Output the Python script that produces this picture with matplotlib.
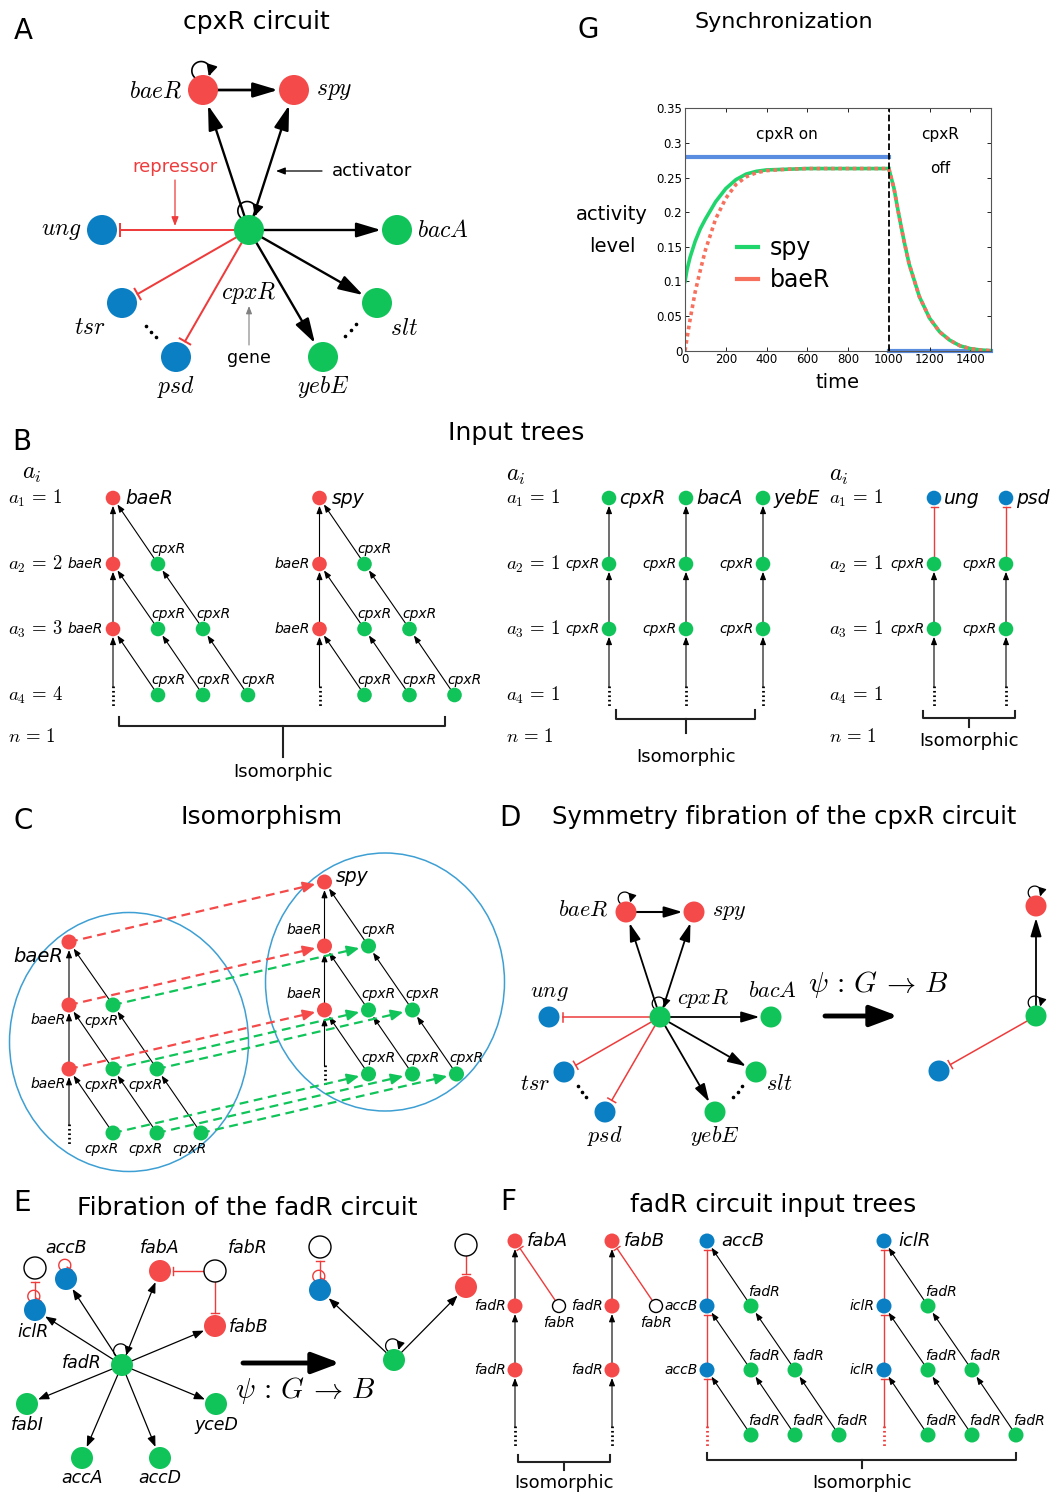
import numpy as np
import matplotlib
matplotlib.use("Agg")
import matplotlib.pyplot as plt
from matplotlib.patches import Circle, Ellipse, FancyArrowPatch
from matplotlib.lines import Line2D

plt.rcParams["font.family"] = "DejaVu Sans"
plt.rcParams["mathtext.fontset"] = "cm"

RED = "#f44a4a"
GREEN = "#10c45a"
BLUE = "#0a7fc4"
REP = "#ee3b3b"
ELL = "#3d9fd3"
G_GREEN = "#1fd56c"
G_RED = "#f7705d"
G_BLUE = "#5a8de0"

# ---------------- data ----------------
# panel G, values
t_on = [0, 10, 25, 50, 75, 100, 150, 200, 250, 300, 350, 400, 500, 600, 800, 1000]
spy_on = [0.100, 0.117, 0.135, 0.158, 0.176, 0.190, 0.215, 0.234, 0.247, 0.255, 0.259, 0.261,
          0.262, 0.263, 0.263, 0.263]
baer_on = [0.0, 0.018, 0.045, 0.085, 0.116, 0.145, 0.190, 0.220, 0.240, 0.251, 0.257, 0.260,
           0.262, 0.263, 0.263, 0.263]
t_off = [1000, 1025, 1050, 1075, 1100, 1150, 1200, 1250, 1300, 1350, 1400, 1450, 1500]
spy_off = [0.263, 0.235, 0.195, 0.158, 0.125, 0.078, 0.047, 0.027, 0.015, 0.007, 0.003, 0.001, 0.0]
baer_off = [0.263, 0.235, 0.195, 0.158, 0.125, 0.078, 0.047, 0.027, 0.015, 0.007, 0.003, 0.001, 0.0]
cpxr_on_t = [0, 1000]
cpxr_on = [0.28, 0.28]
cpxr_off_t = [1000, 1500]
cpxr_off = [0.0, 0.0]
g_xticks = [0, 200, 400, 600, 800, 1000, 1200, 1400]
g_yticks = [0, 0.05, 0.1, 0.15, 0.2, 0.25, 0.3, 0.35]
g_ylabels = ["0", "0.05", "0.1", "0.15", "0.2", "0.25", "0.3", "0.35"]

# cpxR circuit (panels A and D)
cpx_color = {"baeR": RED, "spy": RED, "cpxR": GREEN, "ung": BLUE, "bacA": GREEN,
             "tsr": BLUE, "psd": BLUE, "yebE": GREEN, "slt": GREEN}
cpx_act = [("cpxR", "baeR"), ("cpxR", "spy"), ("cpxR", "bacA"), ("cpxR", "slt"), ("cpxR", "yebE")]
cpx_rep = [("cpxR", "ung"), ("cpxR", "tsr"), ("cpxR", "psd")]
cpx_self = ["baeR", "cpxR"]

# fadR circuit (panel E)
fad_color = {"fadR": GREEN, "iclR": BLUE, "accB": BLUE, "fabA": RED, "fabB": RED,
             "fabI": GREEN, "accA": GREEN, "accD": GREEN, "yceD": GREEN}
fad_targets = ["iclR", "accB", "fabA", "fabB", "fabI", "accA", "accD", "yceD"]

# input tree labels
row_vals_b1 = ["1", "2", "3", "4"]
row_vals_b2 = ["1", "1", "1", "1"]

# ---------------- layout (pixels) ----------------
A_pos = {"baeR": (203, 90), "spy": (294, 90), "cpxR": (249, 230), "ung": (102, 230),
         "bacA": (397, 230), "tsr": (122, 303), "psd": (176, 357), "yebE": (323, 357),
         "slt": (377, 303)}
A_lab = {"baeR": (156, 90), "spy": (334, 90), "ung": (61, 230), "bacA": (443, 230),
         "tsr": (90, 327), "psd": (176, 387), "yebE": (323, 387), "slt": (404, 328),
         "cpxR": (249, 293)}
D_pos = {"baeR": (626, 912), "spy": (694, 912), "cpxR": (660, 1017), "ung": (549, 1017),
         "bacA": (771, 1017), "tsr": (564, 1072), "psd": (605, 1112), "yebE": (715, 1112),
         "slt": (756, 1072)}
D_lab = {"baeR": (583, 910), "spy": (729, 912), "ung": (549, 993), "bacA": (772, 991),
         "tsr": (535, 1084), "psd": (605, 1136), "yebE": (715, 1136), "slt": (779, 1084),
         "cpxR": (703, 999)}
E_pos = {"fadR": (122, 1365), "iclR": (35, 1310), "accB": (66, 1279), "fabA": (160, 1271),
         "fabB": (215, 1326), "fabI": (27, 1404), "accA": (82, 1458), "accD": (160, 1458),
         "yceD": (216, 1404)}
E_lab = {"accB": (66, 1248), "iclR": (33, 1332), "fabA": (160, 1248), "fabB": (249, 1327),
         "fadR": (82, 1363), "fabI": (27, 1425), "accA": (82, 1478), "accD": (160, 1478),
         "yceD": (216, 1425)}
PSI = r"$\psi\,:\,G\,\rightarrow\,B$"

fig = plt.figure(figsize=(10.5, 14.98), dpi=100)
ax = fig.add_axes([0, 0, 1, 1])
ax.set_xlim(0, 1050)
ax.set_ylim(1498, 0)
ax.axis("off")


def txt(x, y, s, fs=10, ha="center", va="center", color="k", style="normal"):
    ax.text(x, y, s, fontsize=fs, ha=ha, va=va, color=color, fontstyle=style, zorder=6)


def node(x, y, c, r, hollow=False):
    if hollow:
        ax.add_patch(Circle((x, y), r, facecolor="white", edgecolor="k", lw=1.0, zorder=5))
    else:
        ax.add_patch(Circle((x, y), r, facecolor=c, edgecolor="none", zorder=5))


def unit(p, q):
    p = np.array(p, float)
    q = np.array(q, float)
    return p, q, (q - p) / np.hypot(*(q - p))


def arrow(p, q, rb=0, lw=0.8, ms=5, hl=0.9, hw=0.35, color="k", z=2):
    p, q, u = unit(p, q)
    b = q - u * rb
    ax.add_patch(FancyArrowPatch(p, b, arrowstyle=f"-|>,head_length={hl},head_width={hw}",
                                 mutation_scale=ms, lw=lw, color=color, shrinkA=0, shrinkB=0,
                                 zorder=z))


def repress(p, q, rb=0, lw=1.0, h=4, color=REP, z=2):
    p, q, u = unit(p, q)
    b = q - u * rb
    n = np.array([-u[1], u[0]])
    ax.plot([p[0], b[0]], [p[1], b[1]], color=color, lw=lw, zorder=z)
    ax.plot([b[0] - n[0] * h, b[0] + n[0] * h], [b[1] - n[1] * h, b[1] + n[1] * h],
            color=color, lw=lw, zorder=z)


def loop(x, y, r, lr, color="k", lw=1.0, ms=7, rep=False):
    # clockwise loop sitting on top of a node, head coming down on the right
    cx, cy = x - 0.2 * lr, y - r - 0.45 * lr
    t = np.radians(np.linspace(245, -35, 40))
    px = cx + lr * np.cos(t)
    py = cy - lr * np.sin(t)
    ax.plot(px[:-2], py[:-2], color=color, lw=lw, zorder=4)
    if rep:
        ax.plot(px[-3:], py[-3:], color=color, lw=lw, zorder=4)
        u = np.array([px[-1] - px[-2], py[-1] - py[-2]])
        u /= np.hypot(*u)
        n = np.array([-u[1], u[0]])
        h = 3
        ax.plot([px[-1] - n[0] * h, px[-1] + n[0] * h], [py[-1] - n[1] * h, py[-1] + n[1] * h],
                color=color, lw=lw, zorder=4)
    else:
        ax.add_patch(FancyArrowPatch((px[-6], py[-6]), (px[-1], py[-1]),
                                     arrowstyle="-|>,head_length=0.8,head_width=0.4",
                                     mutation_scale=ms, lw=lw, color=color, shrinkA=0,
                                     shrinkB=0, zorder=4))


def dots(x, y, color="k"):
    ax.plot([x, x], [y - 9, y + 12], color=color, lw=2, ls=(0, (0.6, 1.0)), zorder=3)


def dots_diag(x1, y1, x2, y2):
    ax.plot(np.linspace(x1, x2, 3), np.linspace(y1, y2, 3), "o", color="k", ms=1.6, zorder=3)


def bracket(x1, x2, y, xc, yd, label, ly, tick=9):
    ax.plot([x1, x1, x2, x2], [y - tick, y, y, y - tick], color="#222", lw=1.5, zorder=3)
    ax.plot([xc, xc], [y, yd], color="#222", lw=1.5, zorder=3)
    txt(xc, ly, label, 13)


def dashed_arrow(p, q, rb, color):
    p, q, u = unit(p, q)
    b = q - u * rb
    hb = b - u * 9
    ax.plot([p[0], hb[0]], [p[1], hb[1]], color=color, lw=1.6, ls=(0, (4, 2.5)), zorder=3)
    ax.add_patch(FancyArrowPatch(hb - u * 1, b, arrowstyle="-|>,head_length=0.9,head_width=0.4",
                                 mutation_scale=8, lw=1.5, color=color, shrinkA=0, shrinkB=0,
                                 zorder=3))


def tri_tree(x0, ys, top_col, spine_col, top_lab, spine_lab, leaf_lab, dx=45, r=7.3,
             rep=False, top_off=(12, 0, "left"), top_fs=13.5, spine_off=(-10, 0, "right"),
             leaf_off=(10, -15), fs=10, dot_col="k"):
    for k in (1, 2):
        if rep:
            repress((x0, ys[k]), (x0, ys[k - 1]), rb=r + 1.5, lw=1.0, h=3.5)
        else:
            arrow((x0, ys[k]), (x0, ys[k - 1]), rb=r + 0.5)
    dots(x0, ys[3], dot_col)
    if rep:
        repress((x0, ys[3] - 8), (x0, ys[2]), rb=r + 1.5, lw=1.0, h=3.5)
    else:
        arrow((x0, ys[3] - 8), (x0, ys[2]), rb=r + 0.5)
    for k in (1, 2, 3):
        for c in range(1, k + 1):
            xc = x0 + c * dx
            arrow((xc, ys[k]), (xc - dx, ys[k - 1]), rb=r + 0.5)
            node(xc, ys[k], GREEN, r)
            txt(xc + leaf_off[0], ys[k] + leaf_off[1], leaf_lab, fs, style="italic")
    node(x0, ys[0], top_col, r)
    txt(x0 + top_off[0], ys[0] + top_off[1], top_lab, top_fs, ha=top_off[2], style="italic")
    for k in (1, 2):
        node(x0, ys[k], spine_col, r)
        txt(x0 + spine_off[0], ys[k] + spine_off[1], spine_lab, fs, ha=spine_off[2], style="italic")


def vert_tree(x, ys, top_col, top_lab, mid_lab, r=7.3, top_rep=False):
    if top_rep:
        repress((x, ys[1]), (x, ys[0]), rb=r + 1.5, lw=1.0, h=3.5)
    else:
        arrow((x, ys[1]), (x, ys[0]), rb=r + 0.5)
    arrow((x, ys[2]), (x, ys[1]), rb=r + 0.5)
    dots(x, ys[3])
    arrow((x, ys[3] - 8), (x, ys[2]), rb=r + 0.5)
    node(x, ys[0], top_col, r)
    txt(x + 10, ys[0], top_lab, 13.5, ha="left", style="italic")
    for k in (1, 2):
        node(x, ys[k], GREEN, r)
        txt(x - 9, ys[k], mid_lab, 10, ha="right", style="italic")


def circuit(pos, lab, r, fs, lw, ms, rep_h):
    for s, t in cpx_act:
        arrow(pos[s], pos[t], rb=r + 1, lw=lw, ms=ms, hl=1.0, hw=0.3)
    arrow(pos["baeR"], pos["spy"], rb=r + 1, lw=lw * 1.15, ms=ms, hl=1.0, hw=0.3)
    for s, t in cpx_rep:
        repress(pos[s], pos[t], rb=r + 3, lw=lw * 0.85, h=rep_h)
    for n in cpx_self:
        loop(pos[n][0], pos[n][1], r, r * 0.62, lw=lw * 0.7, ms=ms * 0.55)
    for n, c in cpx_color.items():
        node(pos[n][0], pos[n][1], c, r)
        txt(lab[n][0], lab[n][1], f"${n}$", fs)


# ---------------- panel letters and titles ----------------
for s, x, y in [("A", 23, 31), ("G", 588, 30), ("B", 22, 442), ("C", 23, 821),
                ("D", 510, 818), ("E", 22, 1203), ("F", 508, 1202)]:
    txt(x, y, s, 20)
for s, x, y, fs in [("cpxR circuit", 256, 22, 18), ("Synchronization", 784, 22, 16),
                    ("Input trees", 516, 433, 18), ("Isomorphism", 262, 817, 18),
                    ("Symmetry fibration of the cpxR circuit", 784, 817, 17.5),
                    ("Fibration of the fadR circuit", 247, 1208, 18),
                    ("fadR circuit input trees", 773, 1205, 18)]:
    txt(x, y, s, fs)

# ---------------- A ----------------
circuit(A_pos, A_lab, 15, 17, 1.7, 15, 6)
dots_diag(146, 326, 156, 337)
dots_diag(345, 336, 356, 324)
txt(175, 167, "repressor", 13, color=REP)
arrow((175, 180), (175, 226), lw=0.9, ms=6, color=REP)
txt(372, 171, "activator", 13)
arrow((322, 171), (276, 171), lw=0.9, ms=6)
txt(249, 358, "gene", 12.5)
arrow((249, 345), (249, 306), lw=0.8, ms=5, color="gray")

# ---------------- G ----------------
gax = fig.add_axes([685 / 1050, 1 - 350.7 / 1498, 305.7 / 1050, 242.4 / 1498])
gax.plot(cpxr_on_t, cpxr_on, color=G_BLUE, lw=3)
gax.plot(cpxr_off_t, cpxr_off, color=G_BLUE, lw=3, clip_on=False, zorder=1)
gax.plot(t_on, spy_on, color=G_GREEN, lw=2.6)
gax.plot(t_off, spy_off, color=G_GREEN, lw=2.6)
gax.plot(t_on, baer_on, color=G_RED, lw=2.6, ls=(0, (1, 1)))
gax.plot(t_off, baer_off, color=G_RED, lw=2.6, ls=(0, (1, 1)))
gax.axvline(1000, color="k", ls="--", lw=1.3)
gax.set_xlim(0, 1500)
gax.set_ylim(0, 0.35)
gax.set_xticks(g_xticks)
gax.set_yticks(g_yticks)
gax.set_yticklabels(g_ylabels)
gax.tick_params(direction="in", top=True, right=True, labelsize=8.5, length=3, width=0.6, pad=2)
for sp in gax.spines.values():
    sp.set_color("#555")
    sp.set_linewidth(0.8)
gax.text(500, 0.3115, "cpxR on", ha="center", va="center", fontsize=11)
gax.text(1250, 0.3115, "cpxR", ha="center", va="center", fontsize=11)
gax.text(1250, 0.263, "off", ha="center", va="center", fontsize=11)
handles = [Line2D([0], [0], color=G_GREEN, lw=3), Line2D([0], [0], color=G_RED, lw=3)]
gax.legend(handles, ["spy", "baeR"], loc="center left", bbox_to_anchor=(0.169, 0.357),
           frameon=False, fontsize=17, handlelength=0.9, handletextpad=0.5,
           borderpad=0, borderaxespad=0, labelspacing=0.35)
txt(612, 215, "activity", 14)
txt(612, 247, "level", 14)
txt(838, 383, "time", 14)

# ---------------- B ----------------
B_rows = [498, 564, 629, 695]
txt(22, 473, "$a_i$", 17, ha="left")
txt(506, 475, "$a_i$", 17, ha="left")
txt(829, 475, "$a_i$", 17, ha="left")
for i in range(4):
    txt(8, B_rows[i], rf"$a_{i + 1}\,=\,{row_vals_b1[i]}$", 13.5, ha="left")
    txt(506, B_rows[i], rf"$a_{i + 1}\,=\,{row_vals_b2[i]}$", 13.5, ha="left")
    txt(829, B_rows[i], rf"$a_{i + 1}\,=\,{row_vals_b2[i]}$", 13.5, ha="left")
for x in (8, 506, 829):
    txt(x, 736, r"$n\,=\,1$", 13.5, ha="left")
tri_tree(113, B_rows, RED, RED, "baeR", "baeR", "cpxR")
tri_tree(319.5, B_rows, RED, RED, "spy", "baeR", "cpxR")
bracket(119, 445, 726, 283, 757, "Isomorphic", 772)
for x, name in zip([609, 686, 763], ["cpxR", "bacA", "yebE"]):
    vert_tree(x, B_rows, GREEN, name, "cpxR")
bracket(616, 755, 719, 686, 733, "Isomorphic", 757)
for x, name in zip([934, 1006], ["ung", "psd"]):
    vert_tree(x, B_rows, BLUE, name, "cpxR", top_rep=True)
bracket(923, 1015, 718, 969, 727, "Isomorphic", 741, tick=7)

# ---------------- C ----------------
ax.add_patch(Ellipse((129, 1042), 239, 259, fill=False, edgecolor=ELL, lw=1.1, zorder=1))
ax.add_patch(Ellipse((385, 982), 239, 258, fill=False, edgecolor=ELL, lw=1.1, zorder=1))
CL_rows = [942, 1005, 1069, 1133]
CR_rows = [882, 946, 1010, 1074]
CL_x0, CR_x0, C_dx = 69, 324.5, 44
tri_tree(CL_x0, CL_rows, RED, RED, "baeR", "baeR", "cpxR", dx=C_dx, r=7.5,
         top_off=(-31, 15, "center"), top_fs=14, spine_off=(-21, 15, "center"),
         leaf_off=(-12, 16))
tri_tree(CR_x0, CR_rows, RED, RED, "spy", "baeR", "cpxR", dx=C_dx, r=7.5,
         top_off=(11, -6, "left"), top_fs=13.5, spine_off=(-20, -16, "center"),
         leaf_off=(10, -16))
for k in range(4):
    for c in range(k + 1):
        if k == 3 and c == 0:
            continue
        col = RED if c == 0 else GREEN
        dashed_arrow((CL_x0 + c * C_dx, CL_rows[k]), (CR_x0 + c * C_dx, CR_rows[k]), 9.5, col)

# ---------------- D ----------------
circuit(D_pos, D_lab, 10.5, 16, 1.3, 11, 4.5)
dots_diag(578, 1086, 586, 1097)
dots_diag(733, 1097, 742, 1086)
txt(878, 985, PSI, 21)
arrow((825, 1016), (898, 1016), lw=3.5, ms=14, hl=1.2, hw=0.45)
Db = {"r": (1036, 906), "g": (1036, 1016), "b": (939, 1071)}
arrow(Db["g"], Db["r"], rb=12, lw=1.3, ms=11, hl=1.0, hw=0.3)
repress(Db["g"], Db["b"], rb=13, lw=1.1, h=4.5)
loop(*Db["r"], 10.5, 6.5, lw=0.9, ms=6)
loop(*Db["g"], 10.5, 6.5, lw=0.9, ms=6)
node(*Db["r"], RED, 10.5)
node(*Db["g"], GREEN, 10.5)
node(*Db["b"], BLUE, 10.5)

# ---------------- E ----------------
E_r = 11
for t in fad_targets:
    arrow(E_pos["fadR"], E_pos[t], rb=E_r + 1, lw=0.9, ms=7)
loop(*E_pos["fadR"], E_r, 7, lw=0.9, ms=6)
fabR = (215, 1271)
icl_in = (35, 1268)
repress(fabR, E_pos["fabA"], rb=E_r + 2, lw=1.0, h=4)
repress(fabR, E_pos["fabB"], rb=E_r + 2, lw=1.0, h=4)
repress(E_pos["iclR"], icl_in, rb=E_r + 3, lw=1.0, h=4)
loop(*E_pos["iclR"], E_r, 6, color=REP, rep=True)
loop(*E_pos["accB"], E_r, 6, color=REP, rep=True)
for n, c in fad_color.items():
    node(E_pos[n][0], E_pos[n][1], c, E_r)
    txt(E_lab[n][0], E_lab[n][1], n, 12.5, style="italic")
node(*fabR, None, E_r, hollow=True)
node(*icl_in, None, E_r, hollow=True)
txt(248, 1248, "fabR", 12.5, style="italic")
arrow((243, 1363), (340, 1363), lw=3.5, ms=14, hl=1.2, hw=0.45)
txt(305, 1390, PSI, 21)
Eb = {"g": (394, 1360), "b": (320, 1290), "r": (466, 1287), "ob": (320, 1247), "or": (466, 1245)}
arrow(Eb["g"], Eb["b"], rb=E_r + 1, lw=0.9, ms=7)
arrow(Eb["g"], Eb["r"], rb=E_r + 1, lw=0.9, ms=7)
loop(*Eb["g"], E_r, 7, lw=0.9, ms=6)
loop(*Eb["b"], E_r, 6, color=REP, rep=True)
repress(Eb["b"], Eb["ob"], rb=E_r + 3, lw=1.0, h=4)
repress(Eb["or"], Eb["r"], rb=E_r + 2, lw=1.0, h=4)
node(*Eb["g"], GREEN, E_r)
node(*Eb["b"], BLUE, E_r)
node(*Eb["r"], RED, E_r)
node(*Eb["ob"], None, E_r, hollow=True)
node(*Eb["or"], None, E_r, hollow=True)

# ---------------- F ----------------
F_rows = [1241, 1306, 1370, 1435]
for x, name in [(515, "fabA"), (612, "fabB")]:
    arrow((x, F_rows[1]), (x, F_rows[0]), rb=8)
    arrow((x, F_rows[2]), (x, F_rows[1]), rb=8)
    dots(x, F_rows[3])
    arrow((x, F_rows[3] - 8), (x, F_rows[2]), rb=8)
    repress((x + 44, F_rows[1]), (x, F_rows[0]), rb=9, lw=1.0, h=3.5)
    node(x + 44, F_rows[1], None, 6.5, hollow=True)
    txt(x + 44, F_rows[1] + 17, "fabR", 10, style="italic")
    for k in range(3):
        node(x, F_rows[k], RED, 7.5)
    txt(x + 12, F_rows[0], name, 13, ha="left", style="italic")
    for k in (1, 2):
        txt(x - 9, F_rows[k], "fadR", 10, ha="right", style="italic")
bracket(518, 610, 1462, 564, 1470, "Isomorphic", 1483, tick=7)
tri_tree(707, F_rows, BLUE, BLUE, "accB", "accB", "fadR", dx=44, r=7.5, rep=True,
         top_off=(14, 0, "left"), top_fs=13, spine_off=(-9, 0, "right"),
         leaf_off=(13, -14), dot_col=REP)
tri_tree(884, F_rows, BLUE, BLUE, "iclR", "iclR", "fadR", dx=44, r=7.5, rep=True,
         top_off=(14, 0, "left"), top_fs=13, spine_off=(-9, 0, "right"),
         leaf_off=(13, -14), dot_col=REP)
bracket(707, 1016, 1460, 862, 1468, "Isomorphic", 1483, tick=7)

fig.savefig("out.png", dpi=100)
